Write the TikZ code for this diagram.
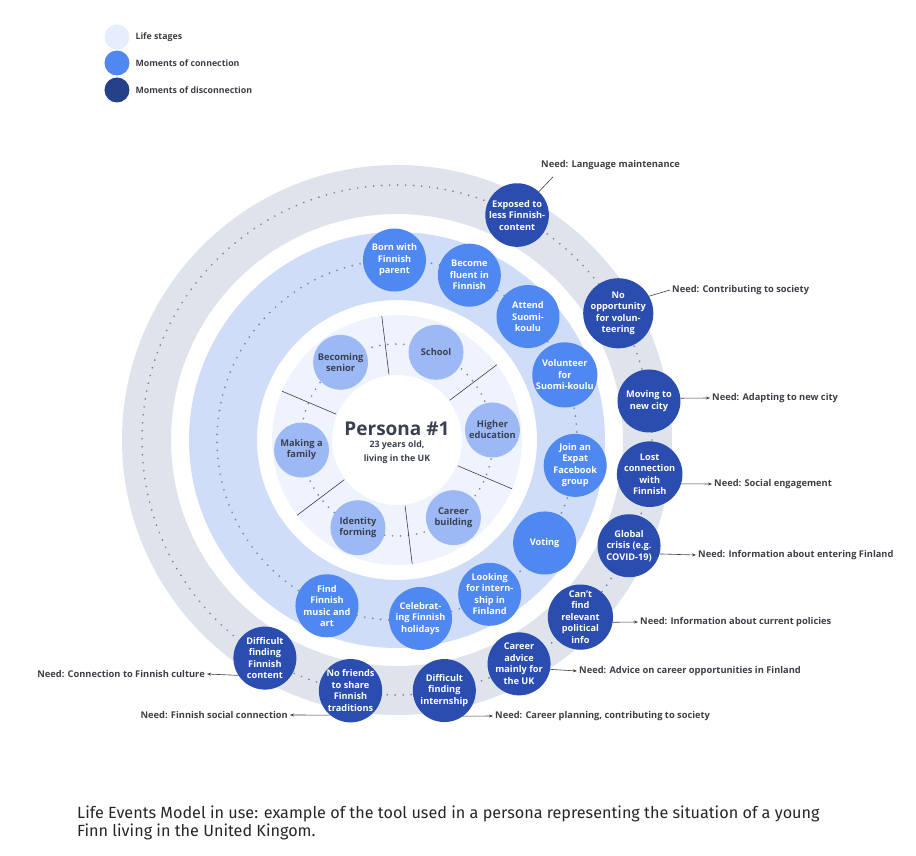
\documentclass[tikz,border=0pt]{standalone}
\usepackage{fontspec}
\setmainfont{Open Sans}
\newfontfamily\capfnt{Fira Sans}
\usetikzlibrary{arrows.meta}
\definecolor{ringgray}{HTML}{DFE3EC}
\definecolor{ringmid}{HTML}{D0DDF8}
\definecolor{ringinner}{HTML}{EEF3FD}
\definecolor{stagefill}{HTML}{9DB9F5}
\definecolor{connfill}{HTML}{4F88F1}
\definecolor{discfill}{HTML}{2A4DAF}
\definecolor{legdark}{HTML}{26408A}
\definecolor{leglight}{HTML}{E6EEFD}
\definecolor{dotgray}{HTML}{7D8496}
\definecolor{needgray}{HTML}{3C3F46}
\definecolor{stagetext}{HTML}{3A4050}
\tikzset{
  lifestage/.style={circle, fill=stagefill, minimum size=55pt, inner sep=0pt, align=center,
    text=stagetext, font=\bfseries\fontsize{9.3}{11}\selectfont},
  conn/.style={circle, fill=connfill, minimum size=63pt, inner sep=0pt, align=center,
    text=white, font=\bfseries\fontsize{9.2}{11.5}\selectfont},
  disconn/.style={conn, fill=discfill},
  needtext/.style={text=needgray, font=\bfseries\fontsize{9.3}{11}\selectfont, inner sep=2pt},
  needline/.style={draw=needgray, line width=0.6pt},
  needarrow/.style={needline, -{Stealth[length=4pt,width=3pt]}},
  dotring/.style={draw=dotgray, line width=1.9pt, line cap=round, dash pattern=on 0pt off 8pt},
  divider/.style={draw=needgray, line width=0.6pt},
  legdot/.style={circle, minimum size=25pt, inner sep=0pt},
  legtext/.style={anchor=west, text=needgray, font=\bfseries\fontsize{8.8}{10}\selectfont},
}
\begin{document}
\begin{tikzpicture}[x=1pt,y=1pt]
\useasboundingbox (-397,440) rectangle (519,-416);
% Anneaux
\fill[ringgray, even odd rule] (0,0) circle[radius=275] circle[radius=226];
\fill[ringmid, even odd rule] (0,0) circle[radius=208] circle[radius=140];
\fill[ringinner, even odd rule] (0,0) circle[radius=125] circle[radius=65];
\draw[dotring] (0,0) circle[radius=255];
\draw[dotring] (0,0) circle[radius=180];
\draw[dotring] (0,0) circle[radius=96];
\foreach \a in {37,97,...,337}
  \draw[divider] (\a:66) -- (\a:125);
% Life stages
\foreach \a/\n/\t in {66/school/School, 6/higher/{Higher\\education}, -54/career/{Career\\building},
    -114/identity/{Identity\\forming}, 186/family/{Making a\\family}, 126/senior/{Becoming\\senior}}
  \node[lifestage] (\n) at (\a:96) {\t};
\node[text=stagetext, font=\bfseries\fontsize{19}{22}\selectfont] (persona) at (0,11) {Persona \#1};
\node[text=stagetext, align=center, font=\bfseries\fontsize{8.8}{14}\selectfont] (age) at (0,-12)
  {23 years old,\\living in the UK};
% Moments of connection
\foreach \a/\n/\t in {90.8/born/{Born with\\Finnish\\parent}, 66.3/fluent/{Become\\fluent in\\Finnish},
    43.3/attend/{Attend\\Suomi-\\koulu}, 21.2/volunteer/{Volunteer\\for\\Suomi-koulu},
    -8.1/join/{Join an\\Expat\\Facebook\\group}, -34.9/voting/Voting,
    -59/looking/{Looking\\for intern-\\ship in\\Finland}, -82.5/celebrating/{Celebrat-\\ing Finnish\\holidays},
    -112.9/music/{Find\\Finnish\\music and\\art}}
  \node[conn] (\n) at (\a:180) {\t};
% Moments of disconnection
\foreach \a/\n/\t in {61.9/exposed/{Exposed to\\less Finnish-\\content}, 29.8/noopp/{No\\opportunity\\for volun-\\teering},
    8.8/moving/{Moving to\\new city}, -7.7/lost/{Lost\\connection\\with\\Finnish},
    -24.5/crisis/{Global\\crisis (e.g.\\COVID-19)}, -44/cantfind/{Can’t\\find\\relevant\\political\\info},
    -61.4/advice/{Career\\advice\\mainly for\\the UK}, -79.3/intern/{Difficult\\finding\\internship},
    -100.5/nofriends/{No friends\\to share\\Finnish\\traditions}, -121.2/content/{Difficult\\finding\\Finnish\\content}}
  \node[disconn] (\n) at (\a:255) {\t};
% Needs
\node[needtext, anchor=west] (needlang) at (142,275) {Need: Language maintenance};
\node[needtext, anchor=west] (needcontrib) at (273,150) {Need: Contributing to society};
\node[needtext, anchor=west] (needcity) at (313,42) {Need: Adapting to new city};
\node[needtext, anchor=west] (needengage) at (315,-44) {Need: Social engagement};
\node[needtext, anchor=west] (needentry) at (299,-115) {Need: Information about entering Finland};
\node[needtext, anchor=west] (needpolicy) at (241,-182) {Need: Information about current policies};
\node[needtext, anchor=west] (needadvice) at (180,-231) {Need: Advice on career opportunities in Finland};
\node[needtext, anchor=west] (needplan) at (96,-276) {Need: Career planning, contributing to society};
\node[needtext, anchor=east] (needculture) at (-190,-234) {Need: Connection to Finnish culture};
\node[needtext, anchor=east] (needsocial) at (-107,-275) {Need: Finnish social connection};
\draw[needline] (exposed.47) -- ([xshift=14pt,yshift=-5pt]needlang.south west);
\draw[needline] (noopp.29) -- (needcontrib.west);
\draw[needarrow] (moving.5) -- (needcity.west);
\draw[needarrow] (lost.-17) -- (needengage.west);
\draw[needarrow] (crisis.-15) -- (needentry.west);
\draw[needarrow] (cantfind.-9) -- (needpolicy.west);
\draw[needarrow] (advice.-10) -- (needadvice.west);
\draw[needarrow] (intern.-54) -- (needplan.west);
\draw[needarrow] (content.-147) -- (needculture.east);
\draw[needarrow] (nofriends.-130) -- (needsocial.east);
% Legend
\node[legdot, fill=leglight] (legstage) at (-280,403) {};
\node[legdot, fill=connfill] (legconn) at (-280,377) {};
\node[legdot, fill=legdark] (legdisc) at (-280,350) {};
\node[legtext] at (-265,403) {Life stages};
\node[legtext] at (-265,377) {Moments of connection};
\node[legtext] at (-265,350) {Moments of disconnection};
% Caption
\node[anchor=west, align=left, inner sep=0pt, text=black!85, font=\capfnt\fontsize{16.2}{18}\selectfont] (caption)
  at (-320,-383) {Life Events Model in use: example of the tool used in a persona representing the situation of a young\\Finn living in the United Kingom.};
\end{tikzpicture}
\end{document}
